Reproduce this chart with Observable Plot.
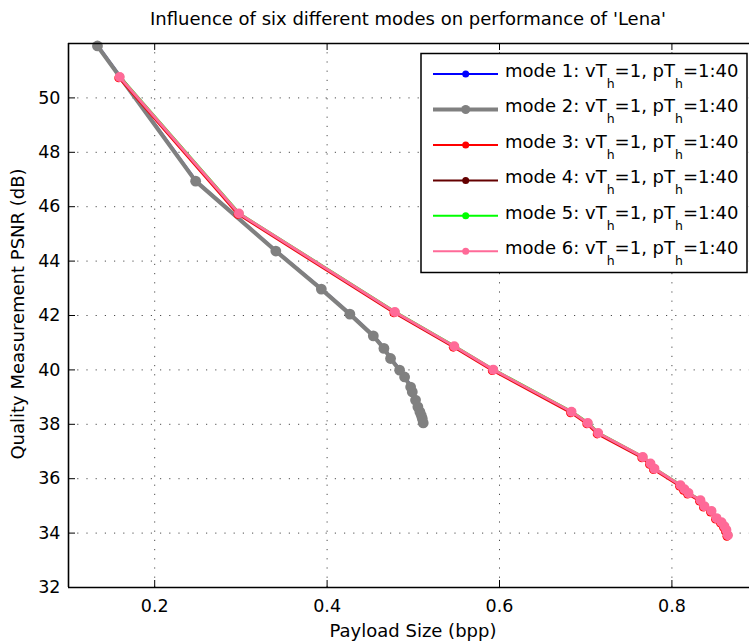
<!DOCTYPE html>
<html>
<head>
<meta charset="utf-8">
<script src="https://cdn.jsdelivr.net/npm/d3@7"></script>
<script src="https://cdn.jsdelivr.net/npm/@observablehq/plot@0.6"></script>
<style>
  html, body { margin: 0; padding: 0; background: #fff; overflow: hidden; }
  svg text { font-family: "DejaVu Sans", sans-serif; }
</style>
</head>
<body>
<div id="chart"></div>
<script>
// ---------- DATA ----------
const title = "Influence of six different modes on performance of 'Lena'";
const xLabel = "Payload Size (bpp)";
const yLabel = "Quality Measurement PSNR (dB)";

const modeNames = ["mode 1", "mode 2", "mode 3", "mode 4", "mode 5", "mode 6"];
const vThValues = ["1", "1", "1", "1", "1", "1"];
const pThValues = ["1:40", "1:40", "1:40", "1:40", "1:40", "1:40"];

// curve shared by modes 1 and 2
const curveAX = [0.1336, 0.2475, 0.3405, 0.3933, 0.4264, 0.4536, 0.4659, 0.4736, 0.4841, 0.4899,
                 0.4969, 0.4988, 0.5026, 0.5053, 0.5076, 0.5092, 0.5104, 0.5115];
const curveAY = [51.91, 46.94, 44.37, 42.97, 42.05, 41.25, 40.79, 40.42, 39.99, 39.74,
                 39.37, 39.19, 38.89, 38.64, 38.46, 38.33, 38.21, 38.05];

// curve shared by modes 3, 4, 5 and 6
const curveBX = [0.1594, 0.2977, 0.4786, 0.5475, 0.5927, 0.6835, 0.7024, 0.7144, 0.7662, 0.7751,
                 0.7797, 0.8099, 0.8145, 0.8192, 0.8331, 0.8377, 0.8459, 0.8517, 0.8575, 0.8609,
                 0.8632, 0.8649];
const curveBY = [50.77, 45.75, 42.13, 40.87, 40.01, 38.46, 38.05, 37.68, 36.80, 36.56,
                 36.37, 35.76, 35.61, 35.47, 35.21, 34.99, 34.81, 34.55, 34.40, 34.25,
                 34.11, 33.92];
const modeCurve = ["A", "A", "B", "B", "B", "B"];

const xTicks = [0.2, 0.4, 0.6, 0.8];
const yTicks = [32, 34, 36, 38, 40, 42, 44, 46, 48, 50];
const xDomain = [0.1, 0.89];
const yDomain = [32, 52];

// ---------- STYLE ----------
const modeStyles = [
  {color: "#0000ff", lw: 1.6, r: 3,   dx: 1.2,  dy: 0,   lr: 3.5, llw: 2},
  {color: "#808080", lw: 4.2, r: 5.4, dx: 0,    dy: 0,   lr: 4.5, llw: 4},
  {color: "#ff0000", lw: 2,   r: 4.4, dx: -1,   dy: 1,   lr: 3.5, llw: 2},
  {color: "#640000", lw: 1.6, r: 3.5, dx: -0.5, dy: 0.5, lr: 3.5, llw: 2},
  {color: "#00ff00", lw: 1.6, r: 3.5, dx: 1,    dy: -0.3,lr: 3.5, llw: 2},
  {color: "#ff6a98", lw: 3,   r: 5,   dx: 0,    dy: 0,   lr: 3.5, llw: 2}
];

const W = 749, H = 643, mL = 68, mR = 0, mT = 43, mB = 56;
const fw = W - mL - mR, fh = H - mT - mB;

const curves = {
  A: curveAX.map((x, i) => ({x, y: curveAY[i]})),
  B: curveBX.map((x, i) => ({x, y: curveBY[i]}))
};

const dataMarks = [];
modeNames.forEach((name, i) => {
  const s = modeStyles[i];
  const rows = curves[modeCurve[i]];
  dataMarks.push(Plot.line(rows, {x: "x", y: "y", stroke: s.color, strokeWidth: s.lw, dx: s.dx, dy: s.dy}));
  dataMarks.push(Plot.dot(rows, {x: "x", y: "y", fill: s.color, stroke: "none", r: s.r, dx: s.dx, dy: s.dy}));
});

const gridStyle = {stroke: "#000", strokeOpacity: 0.7, strokeWidth: 1, strokeDasharray: "1.2,8"};

const chart = Plot.plot({
  width: W, height: H,
  marginLeft: mL, marginRight: mR, marginTop: mT, marginBottom: mB,
  style: {background: "#fff", color: "#000", fontSize: "17.5px", fontFamily: "DejaVu Sans, sans-serif"},
  x: {domain: xDomain, label: null},
  y: {domain: yDomain, label: null},
  marks: [
    Plot.gridX(xTicks, gridStyle),
    Plot.gridY(yTicks, gridStyle),
    ...dataMarks,
    Plot.tickX(xTicks, {x: d => d, insetTop: fh - 7, stroke: "#000", strokeWidth: 1}),
    Plot.tickX(xTicks, {x: d => d, insetBottom: fh - 7, stroke: "#000", strokeWidth: 1}),
    Plot.tickY(yTicks, {y: d => d, insetRight: fw - 7, stroke: "#000", strokeWidth: 1}),
    Plot.ruleX([xDomain[0]], {stroke: "#000", strokeWidth: 1.6}),
    Plot.ruleY(yDomain, {stroke: "#000", strokeWidth: 1.6}),
    Plot.axisX(xTicks, {tickSize: 0, tickPadding: 12, tickFormat: d => d.toFixed(1), fontSize: 17.5}),
    Plot.axisY(yTicks, {tickSize: 0, tickPadding: 8, fontSize: 17.5})
  ]
});

document.getElementById("chart").appendChild(chart);

// ---------- TEXT: title, axis labels ----------
const svg = d3.select(chart);
svg.append("text").attr("x", 408).attr("y", 25).attr("text-anchor", "middle")
  .attr("font-size", 18).attr("fill", "#000").text(title);
svg.append("text").attr("x", 413).attr("y", 637).attr("text-anchor", "middle")
  .attr("font-size", 18).attr("fill", "#000").text(xLabel);
svg.append("text").attr("transform", "translate(24,314) rotate(-90)").attr("text-anchor", "middle")
  .attr("font-size", 18).attr("fill", "#000").text(yLabel);

// ---------- LEGEND ----------
const lg = svg.append("g").attr("text-anchor", "start");
lg.append("rect").attr("x", 421).attr("y", 53.5).attr("width", 326).attr("height", 219)
  .attr("fill", "#fff").attr("stroke", "#000").attr("stroke-width", 1.5);
modeNames.forEach((name, i) => {
  const s = modeStyles[i];
  const cy = 74 + i * 35.46;
  lg.append("line").attr("x1", 433).attr("x2", 498).attr("y1", cy).attr("y2", cy)
    .attr("stroke", s.color).attr("stroke-width", s.llw);
  lg.append("circle").attr("cx", 465.7).attr("cy", cy).attr("r", s.lr).attr("fill", s.color);
  const t = lg.append("text").attr("x", 505).attr("y", cy + 3).attr("font-size", 18)
    .attr("fill", "#000").attr("text-anchor", "start");
  t.append("tspan").text(name + ": vT");
  t.append("tspan").attr("font-size", 12.5).attr("dy", 11).text("h");
  t.append("tspan").attr("dy", -11).text("=" + vThValues[i] + ", pT");
  t.append("tspan").attr("font-size", 12.5).attr("dy", 11).text("h");
  t.append("tspan").attr("dy", -11).text("=" + pThValues[i]);
});
</script>
</body>
</html>
